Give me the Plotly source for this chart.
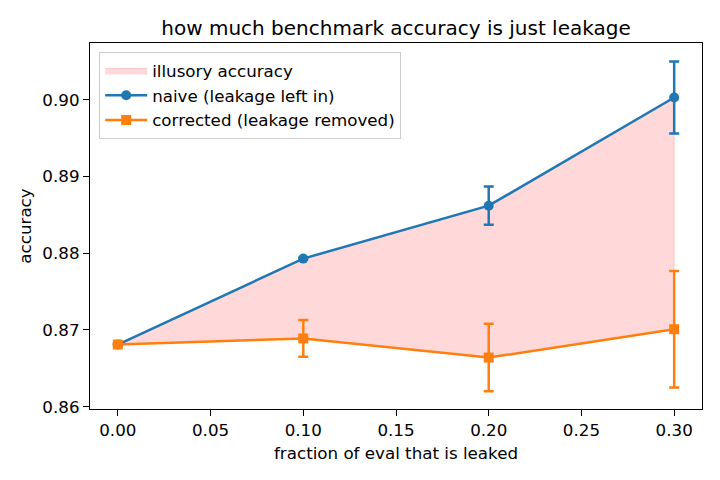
import plotly.graph_objects as go

fractions = [0.0, 0.1, 0.2, 0.3]
naive_acc = [0.8681, 0.8793, 0.8862, 0.9003]
naive_err = [0.0001, 0.0001, 0.0025, 0.0047]
corrected_acc = [0.8681, 0.8689, 0.8664, 0.8701]
corrected_err = [0.0001, 0.0024, 0.0044, 0.0076]

blue = "#1f77b4"
orange = "#ff7f0e"
font = "DejaVu Sans"
fs = 16.7

fig = go.Figure()

# shaded region between the two curves
fig.add_trace(go.Scatter(
    x=fractions + fractions[::-1],
    y=naive_acc + corrected_acc[::-1],
    fill="toself",
    fillcolor="rgba(255,0,0,0.15)",
    line=dict(width=1, color="rgba(255,0,0,0.15)"),
    mode="lines",
    name="illusory accuracy",
    hoverinfo="skip",
))

fig.add_trace(go.Scatter(
    x=fractions, y=naive_acc,
    mode="lines+markers",
    name="naive (leakage left in)",
    line=dict(color=blue, width=2.5),
    marker=dict(symbol="circle", size=10, color=blue),
    error_y=dict(type="data", array=naive_err, visible=True, color=blue, thickness=2.5, width=5),
))

fig.add_trace(go.Scatter(
    x=fractions, y=corrected_acc,
    mode="lines+markers",
    name="corrected (leakage removed)",
    line=dict(color=orange, width=2.5),
    marker=dict(symbol="square", size=10, color=orange),
    error_y=dict(type="data", array=corrected_err, visible=True, color=orange, thickness=2.5, width=5),
))

axis_common = dict(
    showline=True, linecolor="black", linewidth=1.3, mirror=True,
    ticks="outside", ticklen=6, tickwidth=1.3, tickcolor="black",
    showgrid=False, zeroline=False,
    tickfont=dict(family=font, size=fs, color="black"),
)

fig.update_layout(
    width=720, height=480,
    margin=dict(l=90, r=18, t=43, b=71),
    paper_bgcolor="white", plot_bgcolor="white",
    font=dict(family=font, color="black"),
    title=dict(text="how much benchmark accuracy is just leakage",
               x=0.5, xanchor="center", xref="paper", y=0.942, yanchor="middle",
               font=dict(family=font, size=20, color="black")),
    xaxis=dict(range=[-0.015, 0.315], tickvals=[0, 0.05, 0.1, 0.15, 0.2, 0.25, 0.3],
               tickformat=".2f",
               title=dict(text="fraction of eval that is leaked", font=dict(family=font, size=fs), standoff=8),
               **axis_common),
    yaxis=dict(range=[0.8597, 0.9074], tickvals=[0.86, 0.87, 0.88, 0.89, 0.90],
               tickformat=".2f",
               title=dict(text="accuracy", font=dict(family=font, size=fs), standoff=6),
               **axis_common),
    legend=dict(x=0.015, y=0.975, xanchor="left", yanchor="top",
                bgcolor="rgba(255,255,255,0.8)", bordercolor="#cccccc", borderwidth=1,
                itemwidth=42,
                font=dict(family=font, size=fs, color="black"), tracegroupgap=0),
    showlegend=True,
)

fig.write_html("out.html")
